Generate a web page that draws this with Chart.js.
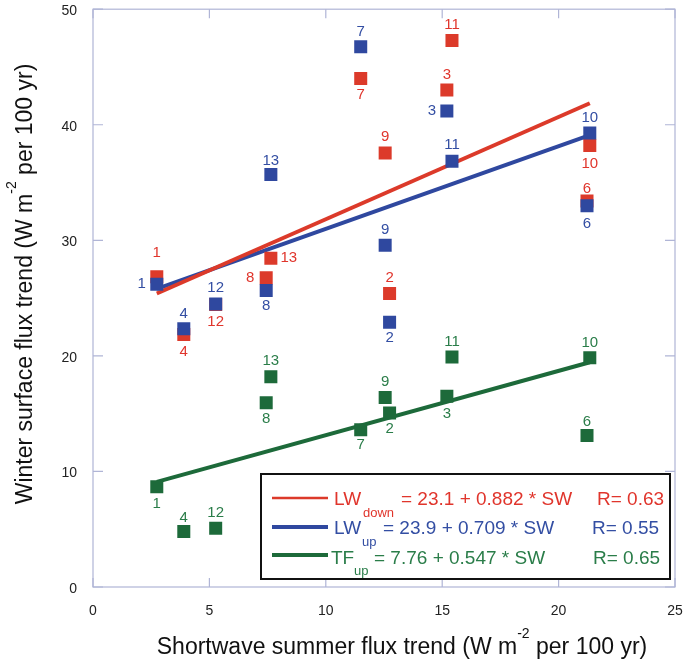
<!DOCTYPE html>
<html><head><meta charset="utf-8">
<script src="https://cdn.jsdelivr.net/npm/chart.js@4.4.1/dist/chart.umd.min.js"></script>
<style>html,body{margin:0;padding:0;background:#fff}canvas{display:block}</style>
</head><body>
<canvas id="c" width="685" height="662"></canvas>
<script>
// ---------- data ----------
const pointIds = [1, 2, 3, 4, 6, 7, 8, 9, 10, 11, 12, 13];
const swSummer = [2.74, 12.74, 15.2, 3.9, 21.22, 11.5, 7.44, 12.55, 21.34, 15.42, 5.27, 7.64];
const lwDown   = [26.85, 25.4, 43.0, 21.85, 33.4, 44.0, 26.75, 37.55, 38.2, 47.3, 24.45, 28.45];
const lwUp     = [26.2, 22.9, 41.2, 22.35, 33.0, 46.75, 25.66, 29.57, 39.28, 36.84, 24.48, 35.69];
const tfUp     = [8.67, 15.05, 16.5, 4.8, 13.1, 13.6, 15.95, 16.4, 19.83, 19.9, 5.08, 18.2];
const fitX       = [2.74, 21.34];
const fitLwDown  = [25.4, 41.86];
const fitLwUp    = [25.8, 39.1];
const fitTfUp    = [9.1, 19.45];
const xTickValues = [0, 5, 10, 15, 20, 25];
const yTickValues = [0, 10, 20, 30, 40, 50];
const legendNames = ['LW', 'LW', 'TF'];
const legendSubs  = ['down', 'up', 'up'];
const legendEqs   = ['= 23.1 + 0.882 * SW', '= 23.9 + 0.709 * SW', '= 7.76 + 0.547 * SW'];
const legendRs    = ['R= 0.63', 'R= 0.55', 'R= 0.65'];

// ---------- styles ----------
const RED = '#dc3a2a', BLUE = '#2f489f', GREEN = '#1d6a3a';
const RED_T = '#e0352c', BLUE_T = '#334ea3', GREEN_T = '#2a7d49';
const FRAME = '#b0b5d6';
const FONT = '"Liberation Sans", Arial, Helvetica, sans-serif';
// label offsets (px) for each point, in pointIds order
const redLab   = [[0,-24],[0,-16],[0,-15],[0,17],[0,-12],[0,16],[-16,0],[0,-16],[0,18],[0,-16],[0,17],[18,0]];
const blueLab  = [[-15,0],[0,15],[-15,0],[0,-15],[0,18],[0,-15],[0,15],[0,-15],[0,-15],[0,-16],[0,-16],[0,-14]];
const greenLab = [[0,17],[0,16],[0,18],[0,-14],[0,-14],[0,15],[0,16],[0,-16],[0,-15],[0,-15],[0,-15],[0,-16]];

const pts = ys => swSummer.map((x, i) => ({x, y: ys[i]}));
const line = ys => fitX.map((x, i) => ({x, y: ys[i]}));

function txt(ctx, s, x, y, size, color, align, base) {
  ctx.save();
  ctx.font = size + 'px ' + FONT;
  ctx.fillStyle = color;
  ctx.textAlign = align || 'left';
  ctx.textBaseline = base || 'alphabetic';
  ctx.fillText(s, x, y);
  const w = ctx.measureText(s).width;
  ctx.restore();
  return w;
}
function width(ctx, s, size) {
  ctx.save(); ctx.font = size + 'px ' + FONT; const w = ctx.measureText(s).width; ctx.restore(); return w;
}

const deco = {
  id: 'deco',
  beforeDatasetsDraw(chart) {
    const ctx = chart.ctx, a = chart.chartArea, xs = chart.scales.x, ys = chart.scales.y;
    ctx.save();
    ctx.strokeStyle = FRAME; ctx.lineWidth = 1.2;
    ctx.strokeRect(a.left, a.top, a.right - a.left, a.bottom - a.top);
    ctx.beginPath();
    xTickValues.forEach(v => {
      const px = xs.getPixelForValue(v);
      ctx.moveTo(px, a.bottom); ctx.lineTo(px, a.bottom - 9);
      ctx.moveTo(px, a.top); ctx.lineTo(px, a.top + 9);
    });
    yTickValues.forEach(v => {
      const py = ys.getPixelForValue(v);
      ctx.moveTo(a.left, py); ctx.lineTo(a.left + 10, py);
      ctx.moveTo(a.right, py); ctx.lineTo(a.right - 10, py);
    });
    ctx.stroke();
    ctx.restore();
    xTickValues.forEach(v => txt(ctx, String(v), xs.getPixelForValue(v), a.bottom + 24, 14, '#222', 'center', 'middle'));
    yTickValues.forEach(v => txt(ctx, String(v), a.left - 16, ys.getPixelForValue(v) + 2, 14, '#222', 'right', 'middle'));

    // x title
    const s1 = 'Shortwave summer flux trend (W m', s2 = '-2', s3 = ' per 100 yr)';
    const F = 23, FS = 14;
    const tw = width(ctx, s1, F) + width(ctx, s2, FS) + width(ctx, s3, F);
    let x0 = 402 - tw / 2, by = 654;
    x0 += txt(ctx, s1, x0, by, F, '#111');
    x0 += txt(ctx, s2, x0, by - 16, FS, '#111');
    txt(ctx, s3, x0, by, F, '#111');
    // y title
    const t1 = 'Winter surface flux trend (W m', t3 = ' per 100 yr)';
    const tw2 = width(ctx, t1, F) + width(ctx, s2, FS) + width(ctx, t3, F);
    ctx.save();
    ctx.translate(32, 284);
    ctx.rotate(-Math.PI / 2);
    let y0 = -tw2 / 2;
    y0 += txt(ctx, t1, y0, 0, F, '#111');
    y0 += txt(ctx, s2, y0, -16, FS, '#111');
    txt(ctx, t3, y0, 0, F, '#111');
    ctx.restore();
  },
  afterDatasetsDraw(chart) {
    const ctx = chart.ctx, xs = chart.scales.x, ys = chart.scales.y;
    const sets = [[lwDown, redLab, RED_T], [lwUp, blueLab, BLUE_T], [tfUp, greenLab, GREEN_T]];
    sets.forEach(([vals, lab, col]) => {
      vals.forEach((v, i) => {
        const px = xs.getPixelForValue(swSummer[i]), py = ys.getPixelForValue(v);
        txt(ctx, String(pointIds[i]), px + lab[i][0], py + lab[i][1], 15, col, 'center', 'middle');
      });
    });
    // legend box
    ctx.save();
    ctx.fillStyle = '#fff';
    ctx.fillRect(261, 474, 409, 105);
    ctx.strokeStyle = '#111'; ctx.lineWidth = 2;
    ctx.strokeRect(261, 474, 409, 105);
    const rows = [
      {c: RED, t: RED_T, ly: 498, lw: 2.5, base: 505, nameX: 334, subX: 363, subBase: 517, eqX: 401, rX: 597},
      {c: BLUE, t: BLUE_T, ly: 527, lw: 4, base: 534, nameX: 334, subX: 362, subBase: 546, eqX: 383, rX: 592},
      {c: GREEN, t: GREEN_T, ly: 555, lw: 4, base: 564, nameX: 331, subX: 354, subBase: 575, eqX: 374, rX: 593}
    ];
    rows.forEach((r, i) => {
      ctx.strokeStyle = r.c; ctx.lineWidth = r.lw;
      ctx.beginPath(); ctx.moveTo(272, r.ly); ctx.lineTo(328, r.ly); ctx.stroke();
      txt(ctx, legendNames[i], r.nameX, r.base, 19, r.t);
      txt(ctx, legendSubs[i], r.subX, r.subBase, 13, r.t);
      txt(ctx, legendEqs[i], r.eqX, r.base, 19, r.t);
      txt(ctx, legendRs[i], r.rX, r.base, 19, r.t);
    });
    ctx.restore();
  }
};

new Chart(document.getElementById('c'), {
  type: 'scatter',
  data: {
    datasets: [
      {label: 'LWdown', data: pts(lwDown), backgroundColor: RED, borderWidth: 0, pointStyle: 'rect', pointRadius: 9.2, order: 3},
      {label: 'LWup', data: pts(lwUp), backgroundColor: BLUE, borderWidth: 0, pointStyle: 'rect', pointRadius: 9.2, order: 2},
      {label: 'TFup', data: pts(tfUp), backgroundColor: GREEN, borderWidth: 0, pointStyle: 'rect', pointRadius: 9.2, order: 1},
      {label: 'LWdown fit', type: 'line', data: line(fitLwDown), borderColor: RED, borderWidth: 4, pointRadius: 0, showLine: true, fill: false, order: 5},
      {label: 'LWup fit', type: 'line', data: line(fitLwUp), borderColor: BLUE, borderWidth: 4, pointRadius: 0, showLine: true, fill: false, order: 6},
      {label: 'TFup fit', type: 'line', data: line(fitTfUp), borderColor: GREEN, borderWidth: 4, pointRadius: 0, showLine: true, fill: false, order: 4}
    ]
  },
  options: {
    responsive: false,
    animation: false,
    layout: {padding: {left: 93, right: 10, top: 7.5, bottom: 75}},
    plugins: {legend: {display: false}, tooltip: {enabled: false}},
    scales: {
      x: {type: 'linear', min: 0, max: 25, ticks: {display: false, stepSize: 5}, grid: {display: false}, border: {display: false}, afterFit(s) { s.height = 0; }},
      y: {type: 'linear', min: 0, max: 50, ticks: {display: false, stepSize: 10}, grid: {display: false}, border: {display: false}, afterFit(s) { s.width = 0; }}
    }
  },
  plugins: [deco]
});
</script>
</body></html>
